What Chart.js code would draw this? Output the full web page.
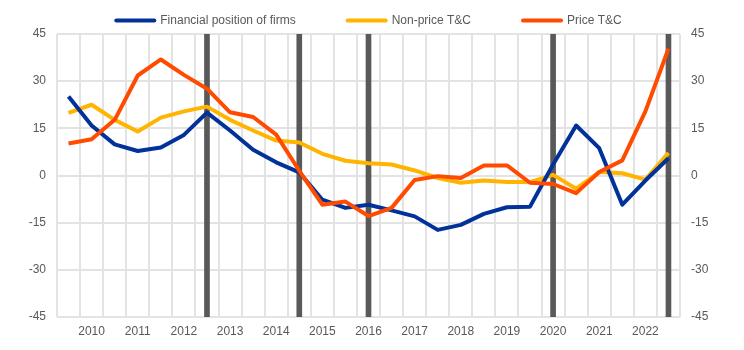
<!DOCTYPE html>
<html>
<head>
<meta charset="utf-8">
<script src="https://cdn.jsdelivr.net/npm/chart.js@4/dist/chart.umd.min.js"></script>
<style>
  html, body { margin: 0; padding: 0; background: #fff; }
  #wrap { width: 744px; height: 350px; }
</style>
</head>
<body>
<div id="wrap"><canvas id="myChart"></canvas></div>
<script>
// half-year periods, only the first half of each year carries a label
const periods = ['', '2010', '', '2011', '', '2012', '', '2013', '', '2014', '', '2015', '', '2016',
  '', '2017', '', '2018', '', '2019', '', '2020', '', '2021', '', '2022', ''];

const financialPosition = [25.1, 15.9, 9.9, 7.8, 8.9, 12.9, 20.0, 14.3, 8.2, 4.2, 1.0, -7.7, -10.3, -9.3,
  -11.1, -13.0, -17.3, -15.7, -12.2, -10.1, -9.9, 3.5, 15.9, 8.7, -9.3, -1.6, 5.5];
const nonPriceTC = [19.9, 22.5, 17.7, 14.0, 18.4, 20.4, 21.9, 17.7, 14.3, 11.1, 10.5, 6.9, 4.7, 3.9,
  3.5, 1.6, -0.8, -2.3, -1.6, -2.1, -2.1, 0.2, -4.2, 1.1, 0.7, -1.3, 7.2];
const priceTC = [10.2, 11.5, 17.7, 31.8, 36.9, 32.0, 27.6, 20.1, 18.6, 13.0, 1.5, -9.3, -8.3, -12.9,
  -10.3, -1.4, -0.2, -0.8, 3.2, 3.2, -2.3, -2.7, -5.6, 1.1, 4.8, 20.4, 40.3];

// periods marked with a vertical bar
const markerIdx = [6, 10, 13, 21, 26];
const markerRange = [-45, 45];

const yTicks = [-45, -30, -15, 0, 15, 30, 45];

const FONT = '"Liberation Sans", Arial, sans-serif';
const TEXT = '#595959';

const markers = periods.map((p, i) => markerIdx.includes(i) ? markerRange : null);

// legend drawn as short thick lines with text, spaced like the original
const lineLegend = {
  id: 'lineLegend',
  afterDraw(chart) {
    const ctx = chart.ctx;
    const sets = chart.data.datasets.filter(d => d.type === 'line');
    const boxW = 42, gap = 4, space = 50, y = 20.5;
    ctx.save();
    ctx.font = '12px ' + FONT;
    const widths = sets.map(d => boxW + gap + ctx.measureText(d.label).width);
    const total = widths.reduce((a, b) => a + b, 0) + space * (sets.length - 1);
    let x = (chart.width - total) / 2 - 4;
    sets.forEach((d, i) => {
      ctx.strokeStyle = d.borderColor;
      ctx.lineWidth = 4;
      ctx.lineCap = 'round';
      ctx.beginPath();
      ctx.moveTo(x + 2, y);
      ctx.lineTo(x + boxW - 2, y);
      ctx.stroke();
      ctx.fillStyle = TEXT;
      ctx.textBaseline = 'middle';
      ctx.textAlign = 'left';
      ctx.fillText(d.label, x + boxW + gap, y);
      x += widths[i] + space;
    });
    ctx.restore();
  }
};

const yAxis = (pos) => ({
  position: pos,
  min: -45,
  max: 45,
  afterBuildTicks: s => { s.ticks = yTicks.map(v => ({ value: v })); },
  afterFit: s => { s.width = pos === 'left' ? 57 : 64; },
  grid: {
    display: pos === 'left',
    color: '#e3e3e3',
    lineWidth: 2,
    drawTicks: false
  },
  border: { display: false },
  ticks: { color: TEXT, font: { family: FONT, size: 12 }, padding: pos === 'left' ? 11 : 11 }
});

new Chart(document.getElementById('myChart'), {
  data: {
    labels: periods,
    datasets: [
      {
        type: 'line',
        label: 'Financial position of firms',
        data: financialPosition,
        borderColor: '#003299',
        backgroundColor: '#003299',
        borderWidth: 4,
        pointRadius: 0,
        tension: 0,
        borderJoinStyle: 'round',
        order: 1
      },
      {
        type: 'line',
        label: 'Non-price T&C',
        data: nonPriceTC,
        borderColor: '#ffb400',
        backgroundColor: '#ffb400',
        borderWidth: 4,
        pointRadius: 0,
        tension: 0,
        borderJoinStyle: 'round',
        order: 2
      },
      {
        type: 'line',
        label: 'Price T&C',
        data: priceTC,
        borderColor: '#ff4b00',
        backgroundColor: '#ff4b00',
        borderWidth: 4,
        pointRadius: 0,
        tension: 0,
        borderJoinStyle: 'round',
        order: 0
      },
      {
        type: 'bar',
        label: 'markers',
        data: markers,
        backgroundColor: '#595959',
        barThickness: 5,
        order: 10
      }
    ]
  },
  options: {
    responsive: true,
    maintainAspectRatio: false,
    animation: false,
    layout: { padding: { top: 34, bottom: 0, left: 0, right: 0 } },
    plugins: {
      legend: { display: false },
      tooltip: { enabled: false }
    },
    scales: {
      x: {
        offset: true,
        afterFit: s => { s.height = 33; },
        grid: { offset: true, color: '#e3e3e3', lineWidth: 2, drawTicks: false },
        border: { display: false },
        ticks: {
          autoSkip: false,
          maxRotation: 0,
          color: TEXT,
          font: { family: FONT, size: 12 },
          padding: 7
        }
      },
      y: yAxis('left'),
      y2: yAxis('right')
    }
  },
  plugins: [lineLegend]
});
</script>
</body>
</html>
